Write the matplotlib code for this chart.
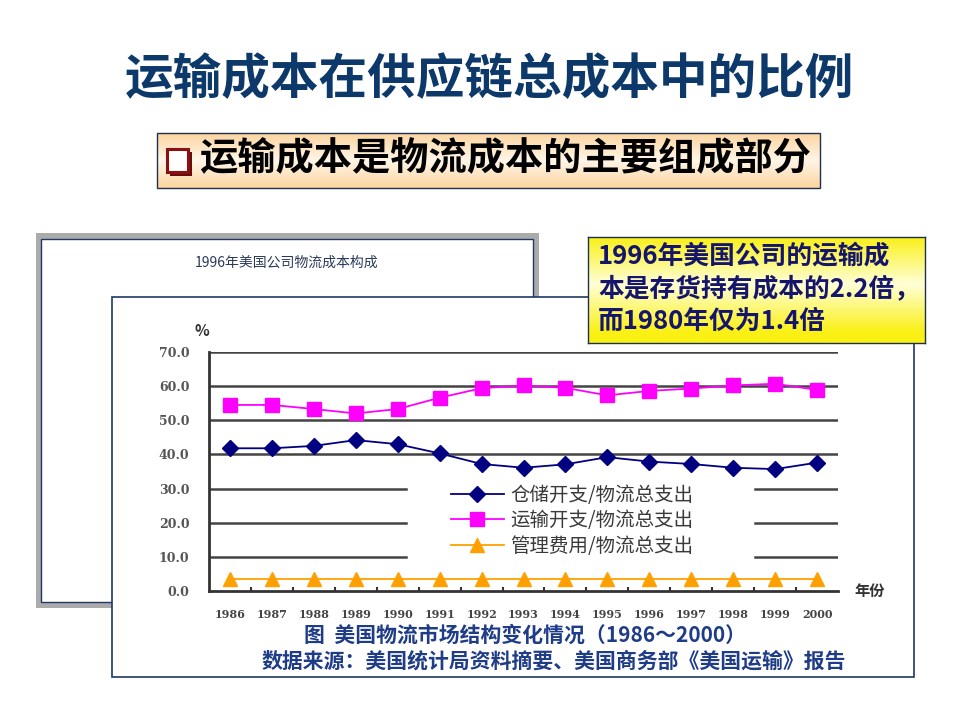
import numpy as np
import matplotlib
matplotlib.use('Agg')
import matplotlib.pyplot as plt
from matplotlib.patches import Rectangle

plt.rcParams['font.family'] = ['Noto Sans CJK SC', 'DejaVu Sans']

# data
years = list(range(1986, 2001))
warehouse = [41.8, 41.8, 42.5, 44.2, 43.0, 40.3, 37.2, 36.1, 37.1, 39.2, 37.9, 37.2, 36.1, 35.7, 37.6]
transport = [54.5, 54.5, 53.3, 52.0, 53.3, 56.6, 59.4, 60.2, 59.5, 57.3, 58.6, 59.3, 60.2, 60.7, 58.9]
admin = [3.6] * 15
series_labels = ['仓储开支/物流总支出', '运输开支/物流总支出', '管理费用/物流总支出']
yticks = [0, 10, 20, 30, 40, 50, 60, 70]

title = '运输成本在供应链总成本中的比例'
subtitle = '运输成本是物流成本的主要组成部分'
back_title = '1996年美国公司物流成本构成'
note_lines = ['1996年美国公司的运输成', '本是存货持有成本的2.2倍，', '而1980年仅为1.4倍']
caption1 = '图  美国物流市场结构变化情况（1986～2000）'
caption2 = '数据来源：美国统计局资料摘要、美国商务部《美国运输》报告'

W, H = 960, 720
fig = plt.figure(figsize=(9.6, 7.2), dpi=100)

# background layer in pixel coords
bg = fig.add_axes([0, 0, 1, 1])
bg.set_xlim(0, W)
bg.set_ylim(H, 0)
bg.axis('off')

bg.text(490, 80, title, ha='center', va='center', fontsize=35, weight='bold', color='#0C386A')

# subtitle box with peach band gradient
t = np.linspace(0, 1, 60)
band = np.abs(t - 0.5) * 2
peach = np.array([252, 212, 160]) / 255
light = np.array([255, 246, 232]) / 255
grad = light[None, :] * (1 - band[:, None]) + peach[None, :] * band[:, None]
bg.imshow(grad[:, None, :], extent=(157, 820, 188, 133), aspect='auto', zorder=1)
bg.add_patch(Rectangle((157, 133), 663, 55, fill=False, edgecolor='#1F2F4F', lw=1, zorder=2))
bg.add_patch(Rectangle((170, 152), 22, 24, facecolor='#6B0A0A', edgecolor='none', zorder=2))
bg.add_patch(Rectangle((167, 149), 21, 23, facecolor='white', edgecolor='#8B1010', lw=2.2, zorder=3))
bg.text(199, 159, subtitle, ha='left', va='center', fontsize=27.5, weight='bold', color='black', zorder=3)

# back panel
bg.add_patch(Rectangle((36, 233), 503, 375, facecolor='#ABABAB', edgecolor='none', zorder=1))
bg.add_patch(Rectangle((41, 239), 492, 363, facecolor='white', edgecolor='#1F3864', lw=1, zorder=2))
bg.text(287, 263, back_title, ha='center', va='center', fontsize=10, color='#2A3A5A', zorder=3)

# front panel
bg.add_patch(Rectangle((112, 297), 802, 380, facecolor='white', edgecolor='#1F3864', lw=1.2, zorder=4))
bg.text(202, 331, '%', ha='center', va='center', fontsize=11, weight='bold', color='#333333', zorder=5)
bg.text(870, 591, '年份', ha='center', va='center', fontsize=11, weight='bold', color='#333333', zorder=5)
bg.text(525, 635, caption1, ha='center', va='center', fontsize=15, weight='bold', color='#1F3C88', zorder=5)
bg.text(554, 661, caption2, ha='center', va='center', fontsize=15, weight='bold', color='#1F3C88', zorder=5)

# chart axes
ax = fig.add_axes([209 / W, (H - 591) / H, 629 / W, 239 / H], zorder=2)
ax.patch.set_alpha(0)
ax.set_xlim(1985.5, 2000.5)
ax.set_ylim(0, 70)

grid_c = '#444444'
for v in [40, 50, 60, 70]:
    ax.axhline(v, color=grid_c, lw=1.8, zorder=1)
for v in [10, 20, 30]:
    ax.axhline(v, 0, 0.313, color=grid_c, lw=1.8, zorder=1)
    ax.axhline(v, 0.868, 1, color=grid_c, lw=1.8, zorder=1)

l1, = ax.plot(years, warehouse, color='#000080', marker='D', ms=8.5, lw=1.3, zorder=3)
l2, = ax.plot(years, transport, color='#FF00FF', marker='s', ms=10, lw=1.3, zorder=3)
l3, = ax.plot(years, admin, color='#FFA000', marker='^', ms=10.5, lw=1.3, zorder=3)

for s in ['top', 'right']:
    ax.spines[s].set_visible(False)
for s in ['left', 'bottom']:
    ax.spines[s].set_color('#333333')
    ax.spines[s].set_linewidth(2)

ax.set_yticks(yticks)
ax.set_yticklabels(['%.1f' % v for v in yticks])
ax.set_xticks(years)
ax.set_xticklabels([str(y) for y in years])
ax.set_xticks(np.arange(1986.5, 2000.5, 1), minor=True)
ax.tick_params(axis='y', length=0, pad=14, labelsize=9, labelcolor='#555555')
ax.tick_params(axis='x', which='major', length=0, pad=13, labelsize=8, labelcolor='#444444')
ax.tick_params(axis='x', which='minor', direction='in', length=3, width=1.5, color='#333333')
for lab in ax.get_xticklabels() + ax.get_yticklabels():
    lab.set_fontweight('bold')
    lab.set_family(['DejaVu Serif'])

leg = ax.legend([l1, l2, l3], series_labels, loc='upper left',
                bbox_to_anchor=(451 / W, (H - 485) / H), bbox_transform=fig.transFigure,
                frameon=False, fontsize=14, handlelength=2.7, handletextpad=0.35,
                labelspacing=0.22, borderpad=0, borderaxespad=0)
for txt in leg.get_texts():
    txt.set_color('#3A3A3A')

# yellow note box
yb = fig.add_axes([588 / W, (H - 343) / H, 337 / W, 106 / H], zorder=3)
tt = np.linspace(0, 1, 80)
yel = np.array([250, 240, 20]) / 255
pale = np.array([255, 255, 215]) / 255
bandy = np.clip(np.abs(tt - 0.45) * 2.2, 0, 1)
gy = pale[None, :] * (1 - bandy[:, None]) + yel[None, :] * bandy[:, None]
yb.imshow(gy[:, None, :], extent=(0, 1, 0, 1), aspect='auto')
yb.set_xlim(0, 1)
yb.set_ylim(0, 1)
yb.set_xticks([])
yb.set_yticks([])
for s in yb.spines.values():
    s.set_color('#1F2F4F')
    s.set_linewidth(1)
for i, line in enumerate(note_lines):
    yb.text(10 / 337, 1 - (19 + 32.5 * i) / 106, line, ha='left', va='center',
            fontsize=18.5, weight='bold', color='#15156B',
            family=['Noto Sans CJK SC', 'DejaVu Serif'])

fig.savefig('out.png', dpi=100)
